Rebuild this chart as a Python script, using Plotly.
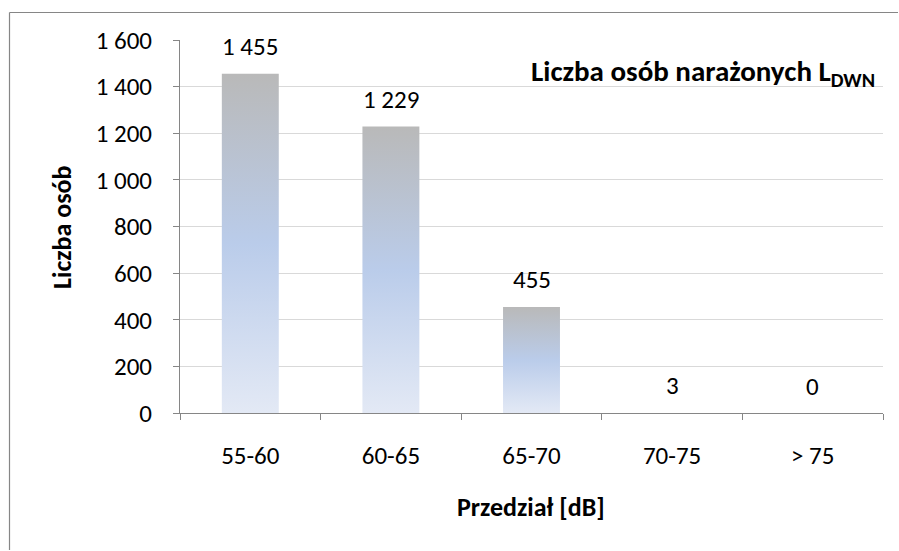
import plotly.graph_objects as go

categories = ["55-60", "60-65", "65-70", "70-75", "> 75"]
values = [1455, 1229, 455, 3, 0]
y_ticks = [0, 200, 400, 600, 800, 1000, 1200, 1400, 1600]

title_text = "Liczba osób narażonych L<sub>DWN</sub>"
x_title = "Przedział [dB]"
y_title = "Liczba osób"

FONT = "Carlito, Lato, 'Open Sans', sans-serif"
W, H = 899, 551
ML, MR, MT, MB = 180, 16, 40, 138
bar_w = 0.405
grad = [[0.0, "#E3E9F5"], [0.5, "#BACCEA"], [1.0, "#B9B9B9"]]
TICK_SIZE = 25
AX_TITLE_SIZE = 26
TITLE_SIZE = 29

fig = go.Figure()
for i, (c, v) in enumerate(zip(categories, values)):
    xs = [i - bar_w / 2, i + bar_w / 2, i + bar_w / 2, i - bar_w / 2, i - bar_w / 2]
    ys = [0, 0, v, v, 0]
    fig.add_trace(go.Scatter(
        x=xs, y=ys, mode="lines", fill="toself",
        line=dict(width=0, color="rgba(0,0,0,0)"),
        fillgradient=dict(type="vertical", colorscale=grad, start=0, stop=max(v, 1)),
        name=c, hoverinfo="skip", showlegend=False,
    ))

for i, v in enumerate(values):
    fig.add_annotation(x=i, y=v, text=f"{v:,}".replace(",", " "), showarrow=False,
                       yshift=27, yanchor="middle",
                       font=dict(family=FONT, size=TICK_SIZE, color="#000000"),
                       xref="x", yref="y")

pw = W - ML - MR
ph = H - MT - MB


def px_x(px):
    return (px - ML) / pw


def px_y(py):
    return 1 - (py - MT) / ph


# outer chart frame (only left and top edges fall inside the view)
fig.add_shape(type="line", xref="paper", yref="paper", x0=px_x(9.5), x1=px_x(9.5),
              y0=px_y(550), y1=px_y(12.5), line=dict(color="#868686", width=1.2), layer="above")
fig.add_shape(type="line", xref="paper", yref="paper", x0=px_x(9.5), x1=px_x(898),
              y0=px_y(12.5), y1=px_y(12.5), line=dict(color="#868686", width=1.2), layer="above")

fig.add_annotation(xref="paper", yref="paper", x=px_x(877), y=px_y(72),
                   xanchor="right", yanchor="middle", showarrow=False,
                   text=f"<b>{title_text}</b>", font=dict(family=FONT, size=TITLE_SIZE, color="#000000"))

fig.add_annotation(xref="paper", yref="paper", x=px_x(62), y=px_y(227),
                   xanchor="center", yanchor="middle", showarrow=False, textangle=-90,
                   text=f"<b>{y_title}</b>", font=dict(family=FONT, size=AX_TITLE_SIZE, color="#000000"))

fig.add_annotation(xref="paper", yref="paper", x=px_x(531), y=px_y(507),
                   xanchor="center", yanchor="middle", showarrow=False,
                   text=f"<b>{x_title}</b>", font=dict(family=FONT, size=AX_TITLE_SIZE, color="#000000"))

fig.update_layout(
    width=W, height=H,
    margin=dict(l=ML, r=MR, t=MT, b=MB, pad=0),
    plot_bgcolor="white", paper_bgcolor="white",
    font=dict(family=FONT, size=TICK_SIZE, color="#000000"),
    separators=", ",
    showlegend=False,
    xaxis=dict(
        range=[-0.5, len(categories) - 0.5],
        tickmode="array", tickvals=list(range(len(categories))), ticktext=categories,
        ticks="", showgrid=False, zeroline=False,
        showline=True, linecolor="#868686", linewidth=1,
        ticklabelstandoff=20,
        tickfont=dict(family=FONT, size=TICK_SIZE, color="#000000"),
        minor=dict(tickmode="array", tickvals=[k - 0.5 for k in range(len(categories) + 1)],
                   ticks="outside", ticklen=6, tickcolor="#868686", tickwidth=1, showgrid=False),
        fixedrange=True,
    ),
    yaxis=dict(
        range=[0, 1600], tickmode="array", tickvals=y_ticks,
        ticktext=[f"{t:,}".replace(",", " ") for t in y_ticks],
        ticks="outside", ticklen=6, tickcolor="#868686",
        showgrid=True, gridcolor="#D9D9D9", gridwidth=1, zeroline=False,
        showline=True, linecolor="#868686", linewidth=1,
        ticklabelstandoff=16,
        tickfont=dict(family=FONT, size=TICK_SIZE, color="#000000"),
        fixedrange=True,
    ),
)

fig.write_html("out.html", config={"displayModeBar": False},
               post_script="document.body.style.margin='0';")
